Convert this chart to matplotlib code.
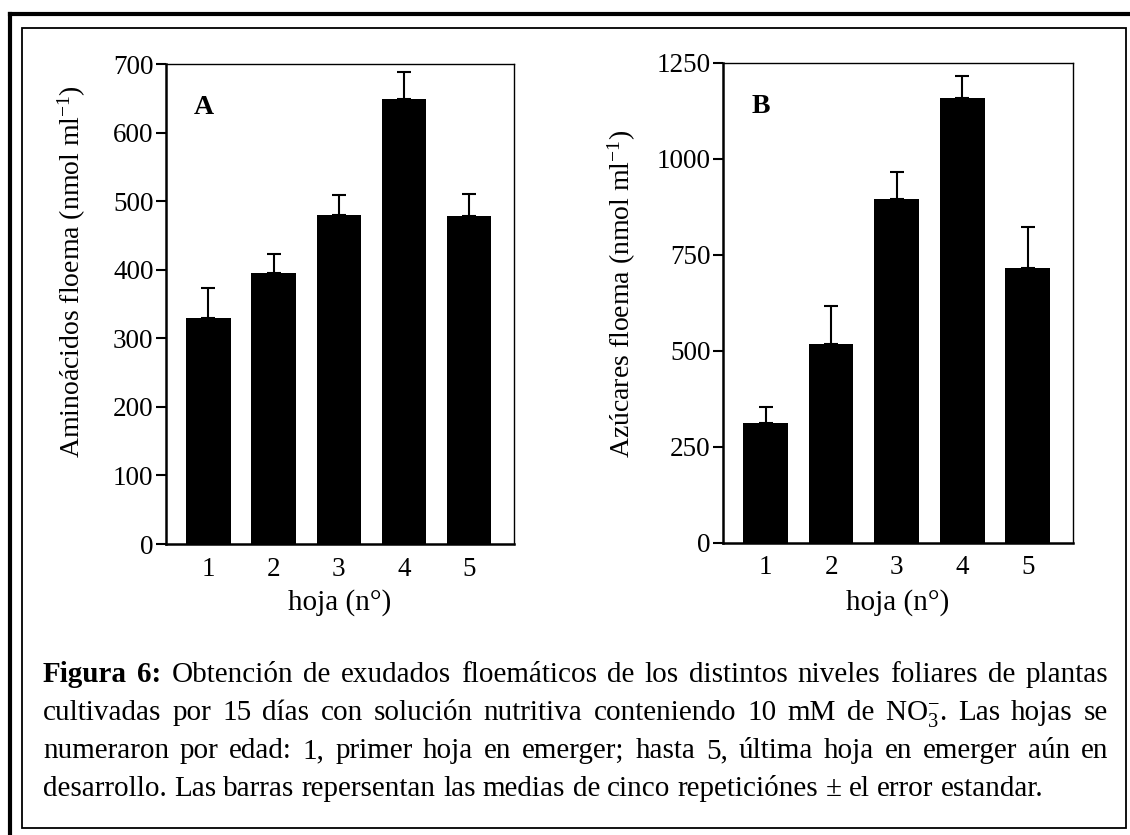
import matplotlib
matplotlib.use('Agg')
import matplotlib.pyplot as plt
from matplotlib.lines import Line2D
from matplotlib.patches import Rectangle

plt.rcParams['font.family'] = ['Liberation Serif', 'DejaVu Serif']
plt.rcParams['mathtext.fontset'] = 'custom'
plt.rcParams['mathtext.rm'] = 'Liberation Serif'
plt.rcParams['mathtext.it'] = 'Liberation Serif:italic'
plt.rcParams['mathtext.bf'] = 'Liberation Serif:bold'

# datos
hojas = [1, 2, 3, 4, 5]
amino = [329, 395, 480, 649, 478]
amino_err = [44, 28, 29, 39, 33]
azucar = [312, 518, 896, 1159, 716]
azucar_err = [42, 99, 70, 57, 107]

W, H = 1130, 835
fig = plt.figure(figsize=(W / 100, H / 100), dpi=100)


def fy(y):
    # pixel desde arriba -> fraccion de figura
    return 1 - y / H


def panel(left, top, right, bottom, vals, errs, ymax, step, letra, ylabel, lab_x):
    ax = fig.add_axes([left / W, fy(bottom), (right - left) / W, (bottom - top) / H])
    ax.bar(hojas, vals, width=0.68, color='black', zorder=2)
    ax.errorbar(hojas, vals, yerr=[[0] * 5, errs], fmt='none', ecolor='black',
                elinewidth=1.5, capsize=5, capthick=1.5, zorder=1)
    ax.set_xlim(0.35, 5.69)
    ax.set_ylim(0, ymax)
    ax.set_yticks(range(0, ymax + 1, step))
    ax.set_xticks(hojas)
    for s in ['left', 'bottom']:
        ax.spines[s].set_linewidth(1.8)
    for s in ['top', 'right']:
        ax.spines[s].set_linewidth(1.0)
    ax.tick_params(axis='y', direction='out', length=7, width=1.5, pad=2, labelsize=19.5)
    ax.tick_params(axis='x', length=0, pad=9, labelsize=19.5)
    ax.text(0.109, 0.91, letra, transform=ax.transAxes, fontsize=20,
            fontweight='bold', ha='center', va='center')
    fig.text(lab_x / W, fy(458), ylabel, rotation=90, ha='center', va='bottom', fontsize=20)
    fig.text((left + right) / 2 / W, fy(603), 'hoja (n°)', ha='center', va='center', fontsize=21)
    return ax


panel(166, 64, 514, 544, amino, amino_err, 700, 100, 'A',
      'Aminoácidos floema (nmol ml$^{\\mathregular{-1}}$)', 72)
panel(723, 63, 1073, 543, azucar, azucar_err, 1250, 250, 'B',
      'Azúcares floema (nmol ml$^{\\mathregular{-1}}$)', 622)

# marcos
fig.add_artist(Line2D([10 / W, 10 / W], [0, fy(14)], lw=3, color='black'))
fig.add_artist(Line2D([10 / W, 1], [fy(14), fy(14)], lw=3, color='black'))
fig.add_artist(Rectangle((22 / W, fy(828)), (1126 - 22) / W, (828 - 28) / H,
                         fill=False, lw=1.3, color='black'))

# leyenda justificada
lineas = [
    [('Figura', True), ('6:', True), ('Obtención', False), ('de', False), ('exudados', False),
     ('floemáticos', False), ('de', False), ('los', False), ('distintos', False),
     ('niveles', False), ('foliares', False), ('de', False), ('plantas', False)],
    [(w, False) for w in 'cultivadas por 15 días con solución nutritiva conteniendo 10 mM de'.split()]
    + [('NO$_3^{\\mathregular{-}}$.', False)] + [(w, False) for w in 'Las hojas se'.split()],
    [(w, False) for w in 'numeraron por edad: 1, primer hoja en emerger; hasta 5, última hoja en emerger aún en'.split()],
    [(w, False) for w in 'desarrollo. Las barras repersentan las medias de cinco repeticiónes ± el error estandar.'.split()],
]
bases = [682, 720, 758, 796]
x0, x1 = 43, 1108
tam = 21

r = fig.canvas.get_renderer()
t1 = fig.text(0, 0, 'x x', fontsize=tam)
t2 = fig.text(0, 0, 'xx', fontsize=tam)
esp = t1.get_window_extent(r).width - t2.get_window_extent(r).width
t1.remove()
t2.remove()

for i, (pal, yb) in enumerate(zip(lineas, bases)):
    items = []
    for w, b in pal:
        t = fig.text(0, fy(yb), w, fontsize=tam, fontweight='bold' if b else 'normal',
                     ha='left', va='baseline')
        items.append((t, t.get_window_extent(r).width))
    total = sum(a for _, a in items)
    if i < len(lineas) - 1:
        gap = (x1 - x0 - total) / (len(items) - 1)
    else:
        gap = esp
    x = x0
    for t, a in items:
        t.set_x(x / W)
        x += a + gap

fig.savefig('out.png', dpi=100)
